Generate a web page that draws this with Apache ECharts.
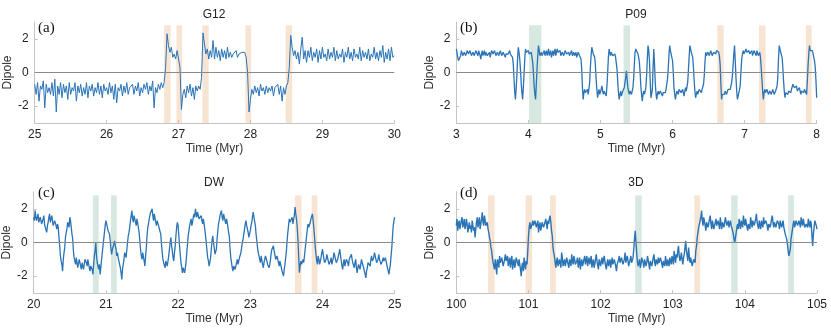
<!DOCTYPE html>
<html><head><meta charset="utf-8">
<script src="https://cdn.jsdelivr.net/npm/echarts@6/dist/echarts.min.js"></script>
<style>html,body{margin:0;padding:0;background:#fff}#c{width:831px;height:332px}</style>
</head><body><div id="c"></div>
<script>
// ---------- data ----------
const titles = ['G12', 'P09', 'DW', '3D'];
const letters = ['(a)', '(b)', '(c)', '(d)'];
const xMins = [25, 3, 20, 100];
const xMaxs = [30, 8, 25, 105];
const timeSteps = [0.02, 0.01, 0.01, 0.01];
const yTicks = [-2, 0, 2];

const dipoleA = [
-0.7,-1.3,-0.6,-1.7,-0.8,-1.0,-0.5,-2.1,-0.7,-1.2,
-0.9,-1.3,-0.6,-1.4,-0.4,-2.35,-0.8,-1.3,-0.6,-1.5,
-0.7,-1.2,-0.8,-1.6,-0.6,-1.3,-0.9,-1.1,-0.6,-1.7,
-0.8,-1.2,-0.7,-1.4,-0.9,-1.3,-0.6,-1.5,-0.8,-1.1,
-0.7,-1.4,-0.9,-1.2,-0.6,-1.3,-0.8,-1.5,-0.7,-1.1,
-0.9,-1.3,-0.6,-1.2,-0.8,-1.6,-0.7,-1.8,-0.9,-1.1,
-0.7,-1.4,-0.8,-1.2,-0.6,-1.3,-0.9,-1.0,-0.7,-1.3,
-0.8,-1.1,-0.6,-1.4,-0.9,-1.2,-0.7,-1.0,-0.6,-1.3,
-0.8,-1.1,-0.5,-2.1,-0.9,-1.2,-0.7,-1.0,-0.6,-0.9,
-0.6,0.3,2.3,1.6,1.2,1.5,0.9,1.1,0.8,1.3,
1.2,0.3,-2.2,-1.3,-1.0,-1.5,-0.8,-1.2,-0.7,-1.4,
-0.9,-1.6,-0.8,-1.1,-0.8,-1.0,-0.3,2.35,1.7,1.1,
1.4,0.8,1.3,0.9,1.9,0.8,1.5,0.9,1.3,0.7,
1.4,0.9,1.3,0.8,1.5,0.9,1.2,0.9,1.1,1.0,
1.3,0.9,1.1,1.0,1.2,1.1,1.2,0.9,0.0,-2.35,
-1.6,-1.0,-1.3,-0.8,-1.2,-0.9,-1.4,-0.7,-1.1,-0.9,
-1.3,-0.8,-1.2,-0.9,-1.1,-0.8,-1.4,-0.9,-1.0,-0.7,
-1.3,-0.8,-1.7,-0.9,-1.3,-0.8,-0.6,0.3,2.2,1.5,
1.0,1.3,0.8,1.2,0.5,1.4,2.1,0.8,1.3,0.6,
1.3,0.9,1.5,0.7,1.2,0.9,1.4,0.6,1.3,0.8,
1.5,0.9,1.1,0.7,1.4,0.8,1.2,0.9,1.5,0.7,
1.3,0.8,1.1,0.9,1.4,0.6,1.2,0.9,1.5,0.8,
1.2,0.7,1.4,0.9,1.1,0.8,1.5,0.7,1.3,0.9,
1.2,0.8,1.4,0.7,1.1,0.9,1.5,0.8,1.2,0.7,
1.3,0.9,1.6,0.6,1.2,0.8,1.4,0.7,1.5,0.9,
1.0];

const dipoleB = [
1.4,1.2,0.9,0.7,0.6,0.8,1.0,1.3,1.2,1.0,0.9,1.2,1.3,1.0,1.1,1.3,1.4,1.1,1.0,1.3,
1.2,1.0,0.9,1.2,1.3,1.0,1.1,1.3,1.4,1.2,1.0,1.3,1.2,1.0,0.8,1.1,1.3,1.0,1.1,1.3,
1.0,1.2,1.3,1.0,0.9,1.1,1.2,0.9,1.1,1.3,1.4,1.1,1.0,1.3,1.2,1.0,0.9,1.2,1.3,1.0,
1.1,1.3,1.2,1.0,1.0,1.2,1.3,1.1,0.9,1.1,1.2,1.0,1.1,1.2,1.3,1.1,1.0,1.2,0.9,0.5,
-0.3,-1.1,-1.6,-1.0,-0.2,0.8,1.5,1.2,0.8,0.2,-0.6,-1.2,-1.6,-0.9,-0.1,0.8,1.4,1.2,1.1,1.3,
1.3,1.1,1.0,1.2,1.2,0.9,0.6,0.0,-0.8,-1.3,-1.6,-0.7,0.2,1.0,1.6,1.3,1.0,1.1,1.2,1.0,
0.9,1.1,1.3,1.0,1.1,1.3,1.0,1.2,1.4,1.0,1.1,1.3,0.9,1.1,1.3,1.0,1.2,1.4,1.0,1.2,
1.4,1.2,1.1,1.3,1.3,1.0,0.9,1.2,1.2,1.0,1.1,1.3,1.4,1.1,1.0,1.2,1.2,1.0,0.9,1.1,
1.3,1.0,1.1,1.2,1.0,1.1,1.2,0.9,0.9,1.2,1.1,1.0,1.0,0.8,0.2,-0.9,-1.6,-1.2,-1.0,-1.2,
-1.3,-1.1,-1.0,-1.3,-1.2,-0.6,0.3,1.0,1.5,1.3,1.1,1.0,0.9,0.4,-0.4,-1.0,-1.5,-1.2,-1.0,-1.3,
-1.2,-1.0,-0.8,-1.1,-1.3,-1.1,-1.0,-1.2,-1.4,-0.8,0.0,0.9,1.4,1.2,1.0,1.2,1.2,1.0,0.9,1.1,
1.1,0.9,0.8,0.2,-0.6,-1.2,-1.6,-1.3,-1.1,-1.4,-1.3,-1.1,-1.0,-0.9,-0.6,-0.3,0.1,-0.4,-0.9,-1.1,
-1.3,-1.1,-1.0,-1.3,-1.2,-0.9,-0.4,0.5,1.2,1.4,1.5,1.3,1.1,0.9,0.6,0.0,-0.8,-1.3,-1.7,-1.3,
-1.1,-1.3,-1.3,-0.9,-0.2,0.8,1.6,1.3,0.7,-0.5,-1.5,-1.3,-1.0,0.3,1.4,0.5,-0.6,-1.2,-1.6,-1.3,
-1.1,-1.3,-1.3,-1.1,-1.0,-1.2,-1.4,-1.2,-1.1,-1.3,-1.2,-1.0,-0.9,-0.4,0.2,1.0,1.6,1.3,1.1,0.9,
0.7,0.0,-0.9,-1.3,-1.6,-1.3,-1.1,-1.2,-1.3,-1.0,-0.9,-1.1,-1.2,-1.3,-1.0,-1.2,-1.4,-1.1,-0.9,-1.1,
-1.2,-0.6,0.1,0.9,1.6,1.4,1.2,1.1,0.9,0.3,-0.5,-1.1,-1.5,-1.3,-1.1,-1.3,-1.3,-1.0,-0.9,-1.1,
-1.2,-1.0,-1.0,-0.7,-0.2,0.6,1.2,1.0,1.0,1.2,1.3,1.0,1.1,1.3,1.2,1.0,0.9,1.2,1.3,1.1,
1.1,1.3,1.4,1.2,1.2,1.0,0.5,-0.6,-1.6,-1.3,-1.2,-1.4,-1.3,-1.1,-1.0,-1.3,-1.2,-1.0,-0.9,-1.1,
-1.0,-0.8,-0.6,-0.2,0.4,1.1,1.6,0.7,-0.3,-1.1,-1.6,-1.4,-1.2,-1.0,-0.7,0.1,0.8,1.1,1.3,1.1,
1.0,1.2,1.4,1.2,1.1,1.3,1.3,1.1,1.0,1.2,1.3,1.0,1.1,1.3,1.4,1.2,1.0,1.3,1.2,1.0,
1.1,1.2,0.9,0.3,-0.4,-1.1,-1.6,-1.2,-1.0,-1.2,-1.3,-1.0,-1.1,-1.3,-1.4,-1.1,-1.0,-1.3,-1.2,-1.0,
-1.1,-1.3,-1.3,-1.1,-1.0,-0.8,-0.3,0.8,1.6,1.4,1.2,1.1,0.9,0.3,-0.5,-1.1,-1.5,-1.2,-1.1,-1.3,
-1.3,-1.1,-1.0,-1.2,-1.2,-1.0,-0.9,-0.7,-0.6,-0.9,-1.0,-0.8,-0.8,-1.1,-1.2,-1.0,-0.9,-1.1,-1.3,-1.1,
-1.0,-1.2,-1.2,-1.0,-0.9,-1.1,-1.3,-0.5,0.4,1.1,1.6,1.3,1.2,1.4,1.3,1.1,0.9,0.7,0.3,-0.5,
-1.5];

const dipoleC = [
1.5,1.3,1.9,1.5,1.3,1.4,1.7,1.2,1.1,1.5,1.4,1.1,1.0,1.4,1.6,1.1,0.9,0.8,0.6,1.0,
1.2,1.5,1.7,1.2,1.3,1.6,1.5,1.0,1.1,1.3,1.4,1.0,0.8,1.1,0.9,0.3,-0.2,-0.8,-1.1,-1.3,
-1.7,-1.0,-0.6,-0.3,0.3,0.6,0.8,1.2,1.1,0.9,1.5,1.3,0.9,0.5,0.2,-0.5,-0.9,-1.1,-1.3,-0.9,
-1.0,-1.5,-1.4,-1.0,-1.2,-1.3,-1.6,-1.2,-1.1,-1.6,-1.3,-1.0,-0.9,-1.2,-1.4,-1.0,-1.1,-1.5,-1.7,-1.4,
-1.3,-1.6,-1.9,-1.3,-0.8,-0.5,0.0,-0.8,-1.2,-1.4,-1.6,-1.3,-1.9,-1.5,-1.0,-0.6,-0.2,0.2,0.6,1.0,
1.3,1.1,1.0,0.7,0.7,0.5,0.1,-0.4,-0.7,-0.4,-0.3,-0.1,0.1,-0.2,-0.4,-0.8,-0.6,-0.9,-1.0,-1.3,
-1.5,-1.8,-2.2,-1.6,-1.3,-1.0,-0.6,-0.5,-0.9,-0.4,0.0,0.4,0.6,0.9,1.3,1.6,1.9,1.4,1.2,1.6,
1.5,1.2,1.0,1.4,1.3,0.9,0.6,0.1,-0.4,-0.8,-1.0,-0.6,-0.7,-1.1,-1.4,-0.8,-0.3,0.4,0.9,1.1,
1.4,1.6,1.8,1.7,2.0,1.6,1.3,1.7,1.6,1.2,1.0,1.3,1.4,1.0,0.8,0.9,0.5,-0.1,-0.6,-1.0,
-1.2,-1.3,-1.5,-1.1,-1.0,-1.4,-1.3,-0.8,-0.4,0.0,0.3,-0.2,-0.5,-0.9,-1.1,-0.6,-0.2,0.4,0.9,1.2,
1.0,0.4,-0.2,-0.7,-1.2,-1.5,-1.8,-1.5,-1.4,-1.8,-1.7,-1.2,-0.6,-0.1,0.4,0.7,1.0,1.1,1.4,1.0,
1.2,1.5,1.7,1.5,2.0,1.7,1.5,1.8,1.8,1.4,1.3,1.5,1.6,1.3,1.1,1.4,1.3,0.8,0.4,0.0,
-0.5,-0.9,-1.1,-1.4,-1.3,-0.9,-0.4,0.1,0.4,0.0,-0.3,-0.7,-0.8,-0.4,0.2,0.7,1.1,1.3,1.6,1.7,
1.9,1.5,1.3,1.7,1.6,1.3,1.1,1.4,1.2,0.9,0.8,0.3,-0.4,-0.9,-1.2,-1.5,-1.7,-1.4,-1.3,-1.6,
-1.5,-1.2,-1.0,-1.3,-1.2,-0.9,-0.8,-0.6,-0.3,0.0,0.2,0.5,0.8,1.1,1.3,1.0,0.9,0.6,0.3,0.5,
0.7,1.0,1.2,1.5,1.8,1.5,1.4,1.0,0.5,0.1,-0.3,-0.6,-0.8,-1.0,-1.2,-0.8,-0.9,-1.3,-1.5,-1.2,
-1.1,-0.8,-0.7,-1.1,-1.3,-1.2,-1.5,-1.3,-1.0,-0.6,-0.4,-0.5,-0.2,-0.5,-0.7,-1.0,-1.1,-0.8,-0.9,-1.2,
-1.4,-1.1,-1.2,-1.5,-1.7,-1.8,-2.0,-1.6,-1.3,-0.9,-0.5,0.1,0.6,1.0,1.4,1.2,1.1,1.3,1.5,1.1,
1.2,1.6,2.1,1.7,1.4,0.9,0.2,-0.8,-1.8,-1.4,-1.1,-1.3,-1.4,-1.0,-1.2,-0.8,-0.4,0.0,0.4,0.8,
1.1,0.9,0.8,1.2,1.4,1.5,1.7,1.3,0.9,0.3,-0.3,-0.7,-1.1,-1.3,-0.8,-1.0,-1.3,-1.1,-0.9,-0.6,
-0.4,-0.7,-1.0,-1.2,-1.3,-1.0,-0.7,-0.9,-1.1,-1.3,-1.4,-1.1,-0.9,-1.3,-1.2,-0.9,-0.6,-0.8,-1.0,-1.2,
-1.3,-1.0,-0.8,-0.6,-0.4,-0.8,-1.1,-1.4,-1.6,-1.2,-1.0,-1.4,-1.3,-1.0,-0.9,-1.2,-1.4,-1.0,-1.1,-0.9,
-0.7,-1.0,-1.2,-1.3,-1.5,-1.2,-1.0,-1.5,-1.8,-1.5,-1.3,-1.4,-1.6,-1.3,-1.0,-1.2,-1.3,-1.5,-1.7,-1.9,
-2.1,-1.7,-1.5,-1.2,-1.1,-1.3,-1.4,-1.0,-0.8,-1.1,-1.2,-0.9,-0.6,-0.8,-1.0,-1.2,-1.3,-1.0,-0.7,-1.0,
-1.1,-1.3,-1.4,-1.1,-0.9,-1.1,-1.2,-0.9,-1.0,-1.3,-1.5,-1.7,-1.9,-1.6,-1.3,-0.8,-0.3,0.4,1.0,1.3,
1.5];

const dipoleD = [
1.0,1.4,0.7,1.1,1.3,0.8,0.9,1.3,1.5,0.9,1.1,1.4,0.8,1.0,1.4,1.1,0.6,0.9,1.2,0.8,
1.0,0.6,1.3,1.0,0.7,0.9,0.3,0.8,1.2,1.5,0.9,1.2,1.5,0.8,1.1,1.4,1.8,1.2,1.0,1.6,
1.3,1.0,0.9,1.2,0.8,0.6,0.3,0.1,-0.3,-0.5,-0.9,-1.2,-1.3,-1.6,-1.0,-1.4,-1.9,-1.0,-1.2,-1.5,
-0.8,-1.2,-1.3,-0.9,-1.0,-1.4,-1.5,-1.0,-0.7,-1.1,-1.2,-0.8,-1.4,-1.3,-0.9,-1.5,-1.1,-0.8,-1.6,-1.2,
-1.0,-1.5,-1.3,-0.9,-0.8,-1.2,-1.4,-1.0,-1.1,-1.6,-2.0,-1.4,-1.2,-1.7,-0.9,-1.3,-1.6,-1.1,-1.3,-0.6,
0.3,0.9,1.2,0.8,0.8,1.1,1.3,1.0,0.9,1.3,1.4,0.9,1.0,1.3,0.6,1.0,1.2,0.7,0.9,1.2,
1.3,0.9,1.0,1.2,1.4,1.1,0.8,1.3,1.1,1.4,1.6,1.2,0.7,0.4,-0.3,-0.6,-0.8,-1.2,-1.5,-1.1,
-0.9,-1.4,-1.3,-1.0,-1.1,-1.5,-0.6,-0.9,-1.4,-1.2,-1.0,-1.4,-1.2,-0.9,-0.8,-1.3,-1.5,-1.0,-1.1,-1.4,
-0.7,-1.1,-1.3,-0.8,-1.0,-1.3,-1.4,-1.1,-0.9,-1.5,-1.2,-0.9,-1.6,-1.2,-1.0,-1.4,-1.3,-1.0,-0.8,-1.3,
-1.2,-0.8,-1.4,-1.1,-0.9,-1.3,-1.1,-0.8,-1.5,-1.2,-1.0,-1.5,-1.3,-1.0,-0.7,-1.1,-1.2,-1.6,-1.0,-1.2,
-1.4,-1.1,-0.9,-1.3,-1.2,-0.8,-1.1,-1.4,-1.6,-1.2,-1.0,-1.4,-1.3,-1.0,-1.5,-1.2,-0.9,-1.3,-1.4,-1.0,
-1.1,-1.4,-1.7,-1.3,-1.2,-1.0,-0.8,-1.2,-1.3,-0.9,-1.0,-1.3,-1.4,-1.0,-0.6,-1.2,-1.1,-0.8,-0.9,-1.4,
-1.3,-1.0,-0.8,-1.2,-1.1,-0.9,-0.4,0.2,0.7,0.1,-0.6,-1.1,-1.4,-1.2,-1.0,-1.5,-1.3,-0.9,-0.8,-1.2,
-1.5,-1.0,-1.1,-1.4,-1.2,-0.8,-0.9,-1.3,-1.6,-1.1,-1.0,-1.4,-1.3,-0.9,-0.7,-1.2,-1.4,-1.0,-1.1,-1.3,
-0.9,-1.2,-1.3,-0.9,-1.0,-1.3,-1.5,-1.1,-1.2,-1.4,-0.8,-1.2,-1.4,-1.0,-1.1,-1.4,-0.9,-1.1,-1.3,-0.8,
-1.0,-1.3,-0.5,-0.9,-1.2,-0.7,-0.9,-0.5,-0.2,-0.8,-1.1,-0.9,-0.6,-1.0,-1.3,-0.9,-0.7,-0.3,0.1,-0.5,
-0.8,-1.1,-0.3,-0.8,-1.2,-0.9,-1.0,-1.4,-1.3,-1.0,-0.9,-1.2,-0.5,-0.2,0.3,0.6,0.9,1.1,1.2,1.5,
1.9,1.3,1.0,1.5,1.4,1.0,0.7,1.2,1.3,0.9,1.0,1.4,1.6,1.1,0.8,1.3,1.2,0.8,1.0,1.2,
1.4,1.0,0.9,1.3,1.2,0.8,1.5,1.1,0.8,1.2,1.3,0.9,1.0,1.5,1.4,1.0,1.1,1.3,0.9,1.1,
1.3,1.0,0.9,0.7,0.5,0.2,0.0,0.3,0.6,0.9,1.1,0.8,1.4,1.1,0.8,1.3,1.2,0.9,1.6,1.2,
1.0,1.4,1.3,0.9,0.7,1.1,1.2,0.8,1.5,1.2,0.9,1.3,1.4,1.0,1.1,1.4,1.7,1.2,1.0,0.8,
1.3,1.0,0.8,1.3,1.2,0.9,1.5,1.1,1.0,1.3,1.4,1.0,0.7,1.1,1.2,0.9,1.1,1.4,1.6,1.2,
0.9,1.2,1.3,0.9,1.0,1.3,1.4,1.1,0.8,1.3,1.2,0.9,1.1,1.3,0.9,0.7,0.5,0.6,0.2,-0.1,
-0.5,-0.8,-0.9,-0.4,0.2,0.5,0.8,1.1,1.3,0.9,1.0,1.3,1.4,1.0,0.9,1.3,1.2,0.9,1.5,1.2,
1.0,1.4,1.3,0.9,0.8,1.1,1.2,0.9,1.4,1.1,0.9,1.3,1.1,0.4,-0.2,0.5,0.9,1.3,1.2,1.0,
0.8];

// shaded intervals: [start, end, kind] (o = orange, g = green)
const bandsA = [[26.80,26.89,'o'],[26.97,27.05,'o'],[27.33,27.42,'o'],[27.93,28.01,'o'],[28.49,28.58,'o']];
const bandsB = [[4.01,4.18,'g'],[5.32,5.41,'g'],[6.62,6.71,'o'],[7.20,7.29,'o'],[7.85,7.93,'o']];
const bandsC = [[20.82,20.90,'g'],[21.07,21.15,'g'],[23.62,23.71,'o'],[23.85,23.93,'o']];
const bandsD = [[100.44,100.53,'o'],[100.96,101.05,'o'],[101.30,101.38,'o'],[102.48,102.57,'g'],[103.30,103.38,'o'],[103.81,103.90,'g'],[104.60,104.68,'g']];

// ---------- chart ----------
const dipoles = [dipoleA, dipoleB, dipoleC, dipoleD];
const bands = [bandsA, bandsB, bandsC, bandsD];
const lineWidths = [1, 1.3, 1.3, 1.4];
const FONT = "'Liberation Sans', Arial, sans-serif";
const SERIF = "'Liberation Serif', 'Times New Roman', serif";
const LINE = '#2a74b6';
const AXIS = '#c4c4c4';
const BAND = {o: 'rgba(236,180,130,0.36)', g: 'rgba(120,178,150,0.30)'};

const grids = [
  {left: 34.7, top: 22, width: 359.6, height: 101},
  {left: 456.3, top: 22, width: 360.4, height: 101},
  {left: 33.7, top: 192, width: 361, height: 101},
  {left: 456.3, top: 192, width: 360.7, height: 101}
];
const titlePos = [[214, 15], [636, 15], [214, 182.5], [636, 182.5]];
const letterPos = [[38, 28.5], [460, 28.5], [38, 193.5], [460, 193.5]];

const option = {
  animation: false,
  grid: grids,
  xAxis: grids.map((g, k) => ({
    gridIndex: k, type: 'value', min: xMins[k], max: xMaxs[k], interval: 1,
    axisLine: {show: true, onZero: false, lineStyle: {color: AXIS, width: 1}},
    axisTick: {show: true, inside: true, length: 3, lineStyle: {color: AXIS}},
    axisLabel: {color: '#222', fontSize: 12, fontFamily: FONT, margin: 6},
    splitLine: {show: false},
    name: 'Time (Myr)', nameLocation: 'middle', nameGap: 20,
    nameTextStyle: {color: '#333', fontSize: 12, fontFamily: FONT}
  })),
  yAxis: grids.map((g, k) => ({
    gridIndex: k, type: 'value', min: -3, max: 3,
    axisLine: {show: true, lineStyle: {color: AXIS, width: 1}},
    axisTick: {show: true, inside: true, length: 3, customValues: yTicks, lineStyle: {color: AXIS}},
    axisLabel: {color: '#222', fontSize: 12, fontFamily: FONT, margin: 6, customValues: yTicks},
    splitLine: {show: false},
    name: 'Dipole', nameLocation: 'middle', nameGap: 16, nameRotate: 90,
    nameTextStyle: {color: '#333', fontSize: 12, fontFamily: FONT}
  })),
  series: dipoles.map((vals, k) => ({
    type: 'line', xAxisIndex: k, yAxisIndex: k, showSymbol: false, symbol: 'none',
    lineStyle: {color: LINE, width: lineWidths[k]}, silent: true,
    data: vals.map((v, i) => [Math.round((xMins[k] + i * timeSteps[k]) * 1000) / 1000, v]),
    markArea: {
      silent: true,
      data: bands[k].map(b => [
        {xAxis: b[0], yAxis: -3, itemStyle: {color: BAND[b[2]]}},
        {xAxis: b[1], yAxis: 2.8}
      ])
    },
    markLine: {
      silent: true, symbol: 'none', label: {show: false},
      lineStyle: {color: '#8a8a8a', type: 'solid', width: 1},
      data: [{yAxis: 0}]
    }
  })),
  graphic: titles.map((t, k) => ({
    type: 'text', x: titlePos[k][0], y: titlePos[k][1],
    style: {text: t, font: '12px ' + FONT, fill: '#222', textAlign: 'center', textVerticalAlign: 'middle'}
  })).concat(letters.map((t, k) => ({
    type: 'text', x: letterPos[k][0], y: letterPos[k][1],
    style: {text: t, font: '15px ' + SERIF, fill: '#111', textAlign: 'left', textVerticalAlign: 'middle'}
  })))
};
echarts.init(document.getElementById('c'), null, {renderer: 'canvas'}).setOption(option);
</script></body></html>
